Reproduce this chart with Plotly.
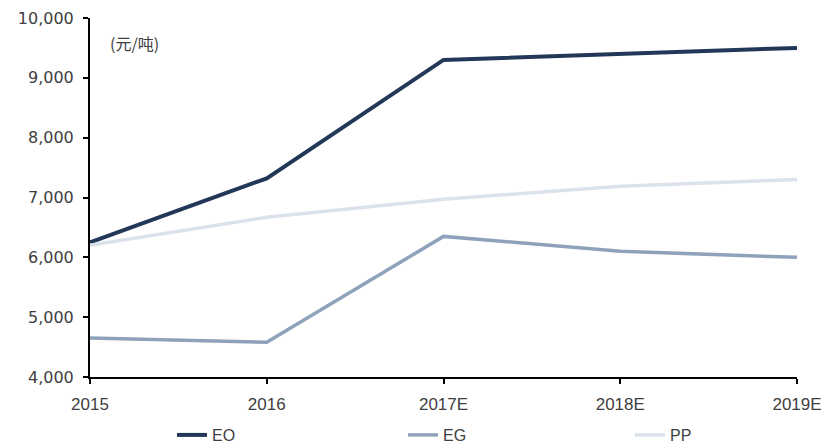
import plotly.graph_objects as go

years = ["2015", "2016", "2017E", "2018E", "2019E"]
eo = [6250, 7320, 9300, 9400, 9500]
eg = [4650, 4580, 6350, 6100, 6000]
pp = [6200, 6670, 6970, 7190, 7300]
yticks = [4000, 5000, 6000, 7000, 8000, 9000, 10000]
ytick_text = ["4,000", "5,000", "6,000", "7,000", "8,000", "9,000", "10,000"]

x = list(range(len(years)))

fig = go.Figure()
fig.add_trace(go.Scatter(x=x, y=eo, name="EO", mode="lines", legend="legend",
                         line=dict(color="#233859", width=4)))
fig.add_trace(go.Scatter(x=x, y=eg, name="EG", mode="lines", legend="legend2",
                         line=dict(color="#8FA2BC", width=3.5)))
fig.add_trace(go.Scatter(x=x, y=pp, name="PP", mode="lines", legend="legend3",
                         line=dict(color="#DCE2EC", width=3.5)))

W, H = 826, 445
leg_font = dict(family="Liberation Sans", size=16, color="#404040")


def leg(px):
    return dict(orientation="h", xref="container", yref="container",
                x=px / W, xanchor="left", y=1 - 435 / H, yanchor="middle",
                font=leg_font, bgcolor="rgba(0,0,0,0)")


fig.update_layout(
    width=W, height=H,
    margin=dict(l=90, r=29, t=18, b=68, autoexpand=False),
    plot_bgcolor="white", paper_bgcolor="white",
    font=dict(family="DejaVu Sans", size=13, color="#404040"),
    xaxis=dict(range=[0, 4], tickvals=x, ticktext=years,
               showline=True, linecolor="black", linewidth=2,
               ticks="outside", tickcolor="black", ticklen=5, tickwidth=1.5,
               showgrid=False, zeroline=False, ticklabelstandoff=6,
               tickfont=dict(family="Liberation Sans", size=17, color="#404040")),
    yaxis=dict(range=[4000, 10000], tickvals=yticks, ticktext=ytick_text,
               showline=True, linecolor="black", linewidth=2,
               ticks="outside", tickcolor="black", ticklen=5, tickwidth=1.5,
               showgrid=False, zeroline=False, ticklabelstandoff=6,
               tickfont=dict(family="DejaVu Sans", size=16, color="#404040")),
    legend=leg(172),
    legend2=leg(403),
    legend3=leg(630),
    showlegend=True,
)

fig.add_annotation(text="(元/吨)", xref="paper", yref="paper", x=0.025, y=0.93,
                   xanchor="left", yanchor="middle", showarrow=False,
                   font=dict(family="Noto Sans CJK SC", size=16, color="#404040"))

fig.write_html("out.html")
